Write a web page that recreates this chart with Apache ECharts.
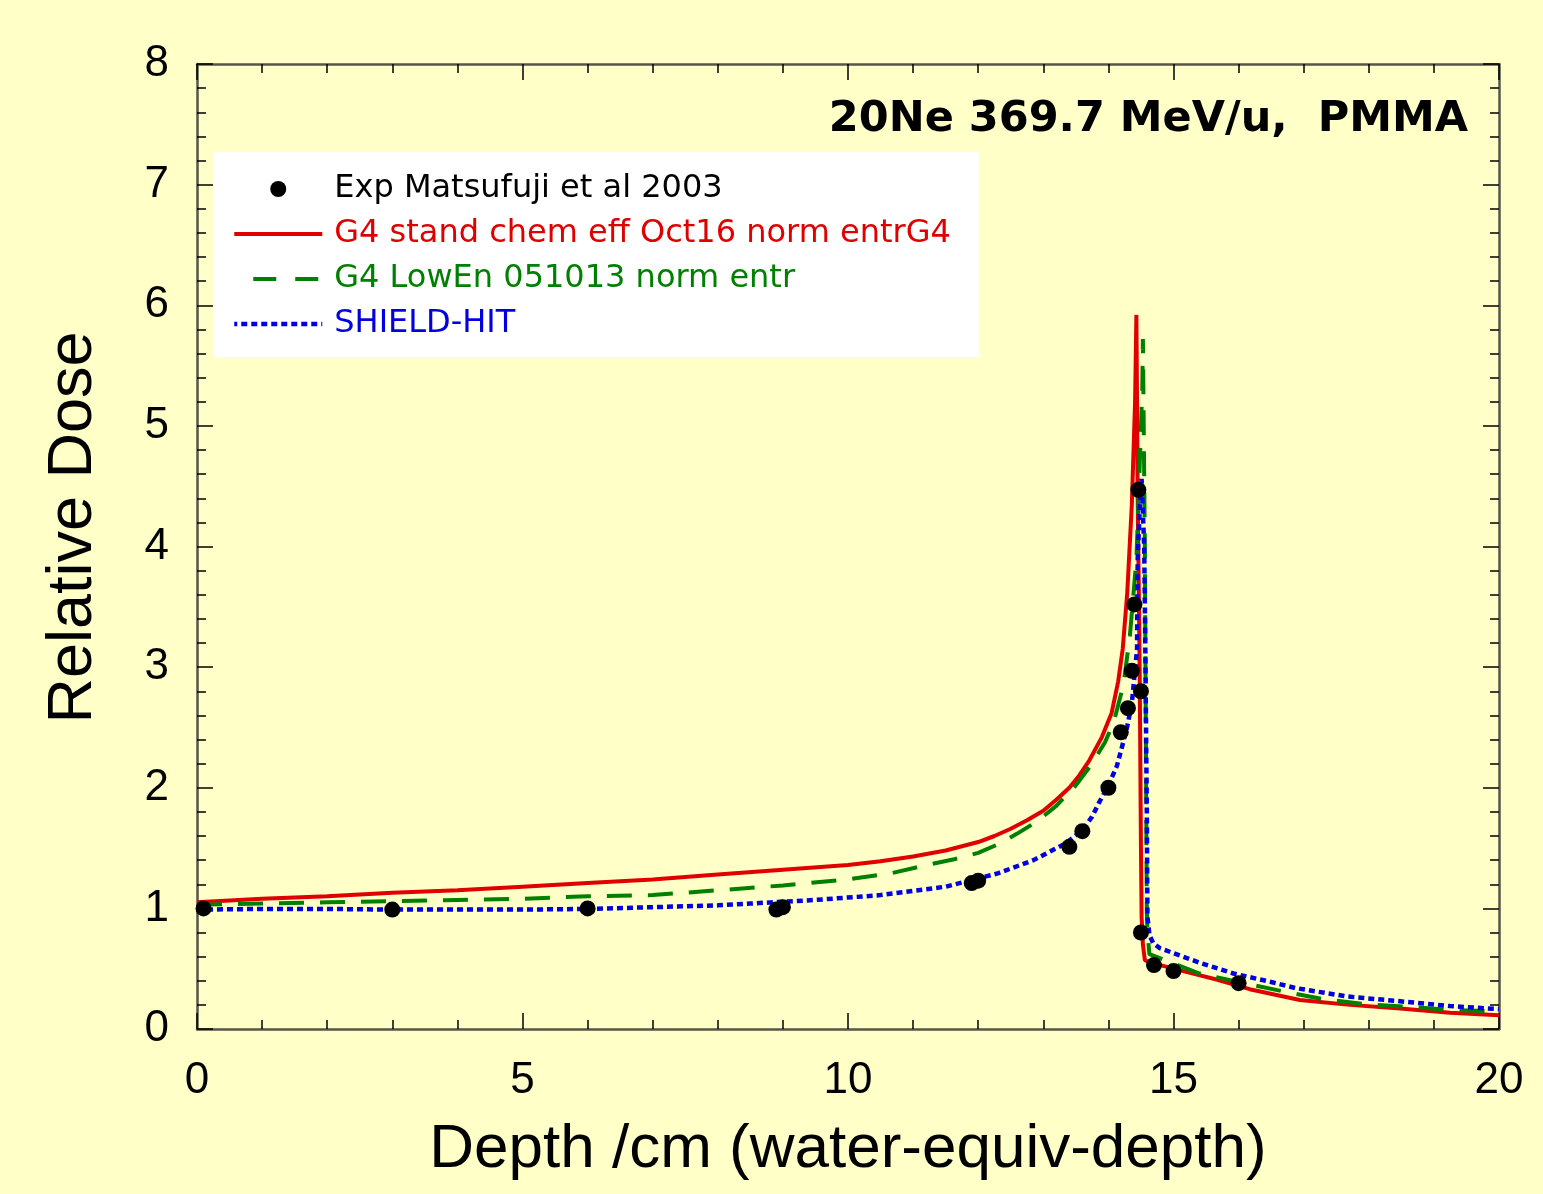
<!DOCTYPE html>
<html>
<head>
<meta charset="utf-8">
<script src="https://cdn.jsdelivr.net/npm/echarts@6/dist/echarts.min.js"></script>
<style>
  html, body { margin: 0; padding: 0; background: #FFFFC8; }
  #chart { width: 1543px; height: 1194px; }
</style>
</head>
<body>
<div id="chart"></div>
<script>
// ---- Data ----
const titleText = '20Ne 369.7 MeV/u,  PMMA';
const xAxisName = 'Depth /cm (water-equiv-depth)';
const yAxisName = 'Relative Dose';

const seriesNames = [
  'Exp Matsufuji et al 2003',
  'G4 stand chem eff Oct16 norm entrG4',
  'G4 LowEn 051013 norm entr',
  'SHIELD-HIT'
];

// Experimental points
const expX = [0.1, 3.0, 6.0, 8.9, 9.0, 11.9, 12.0, 13.4, 13.6, 14.0, 14.19, 14.3, 14.36, 14.4, 14.46, 14.5, 14.5, 14.7, 15.0, 16.0];
const expY = [1.0, 0.99, 1.0, 0.99, 1.01, 1.21, 1.23, 1.51, 1.64, 2.0, 2.46, 2.66, 2.97, 3.52, 4.47, 2.80, 0.80, 0.53, 0.48, 0.38];

// G4 standard (red, solid)
const redX = [0, 1, 2, 3, 4, 5, 6, 7, 8, 9, 10, 10.5, 11, 11.5, 12, 12.25, 12.5, 12.75, 13, 13.2, 13.4, 13.55, 13.7, 13.9, 14.05, 14.15, 14.22, 14.29, 14.36, 14.41, 14.43, 14.44, 14.45, 14.47, 14.48, 14.5, 14.51, 14.53, 14.56, 14.65, 15.15, 15.66, 16.17, 16.94, 17.71, 18.48, 19.25, 20];
const redY = [1.05, 1.08, 1.10, 1.13, 1.15, 1.18, 1.21, 1.24, 1.28, 1.32, 1.36, 1.39, 1.43, 1.48, 1.55, 1.60, 1.66, 1.73, 1.81, 1.90, 2.0, 2.1, 2.22, 2.42, 2.62, 2.88, 3.15, 3.62, 4.35, 5.2, 5.92, 5.2, 4.4, 3.5, 3.0, 1.5, 0.93, 0.7, 0.57, 0.55, 0.48, 0.41, 0.33, 0.24, 0.20, 0.17, 0.135, 0.115];

// G4 LowEn (green, dashed)
const greenX = [0, 1, 2, 3, 4, 5, 6, 7, 8, 9, 10, 10.65, 11.3, 11.65, 12, 12.3, 12.6, 12.9, 13.2, 13.5, 13.75, 13.95, 14.08, 14.23, 14.33, 14.43, 14.48, 14.52, 14.53, 14.56, 14.58, 14.59, 14.6, 14.63, 15.4, 16.17, 16.7, 17.33, 17.97, 18.6, 19.25, 20];
const greenY = [1.03, 1.04, 1.05, 1.06, 1.07, 1.08, 1.10, 1.11, 1.15, 1.19, 1.24, 1.29, 1.37, 1.41, 1.46, 1.53, 1.62, 1.72, 1.85, 2.02, 2.2, 2.38, 2.54, 2.85, 3.26, 3.89, 4.67, 5.3, 5.72, 4.0, 2.0, 1.0, 0.8, 0.62, 0.46, 0.37, 0.31, 0.245, 0.205, 0.185, 0.158, 0.145];

// SHIELD-HIT (blue, dotted)
const blueX = [0, 1, 2, 3, 4, 5, 6, 7, 8, 8.5, 9.5, 10.5, 11.5, 12.3, 12.85, 13.1, 13.35, 13.6, 13.75, 13.85, 14.0, 14.13, 14.2, 14.29, 14.36, 14.44, 14.45, 14.48, 14.51, 14.55, 14.57, 14.59, 14.6, 14.63, 14.69, 14.79, 15.4, 15.92, 16.5, 16.87, 17.66, 18.48, 19.25, 20];
const blueY = [0.99, 0.995, 0.995, 0.99, 0.99, 0.99, 0.995, 1.01, 1.025, 1.04, 1.07, 1.11, 1.18, 1.29, 1.40, 1.47, 1.54, 1.65, 1.76, 1.87, 2.02, 2.18, 2.32, 2.51, 2.7, 3.15, 3.9, 4.3, 4.56, 4.0, 3.0, 1.8, 0.93, 0.78, 0.71, 0.67, 0.55, 0.46, 0.39, 0.34, 0.27, 0.23, 0.19, 0.165];

const xMin = 0, xMax = 20, xStep = 5;
const yMin = 0, yMax = 8, yStep = 1;

// ---- Chart ----
const zip = (xs, ys) => xs.map((x, i) => [x, ys[i]]);
const FONT = '"Liberation Sans", Arial, Helvetica, sans-serif';
const WIDE_FONT = '"DejaVu Sans", "Liberation Sans", Arial, sans-serif';
const axisColor = '#56564a';
const colors = ['#000000', '#E00000', '#008000', '#0000E0'];
const hiddenSymbol = { color: 'rgba(0,0,0,0)', borderColor: 'rgba(0,0,0,0)', borderWidth: 0 };

const baseAxis = (extra) => Object.assign({
  type: 'value',
  axisLine: { show: true, onZero: false, lineStyle: { color: axisColor, width: 2.5 } },
  axisTick: { show: true, inside: true, length: 16, lineStyle: { color: '#000', width: 1.5 } },
  minorTick: { show: true, splitNumber: 5, length: 9, lineStyle: { color: '#000', width: 1.5 } },
  splitLine: { show: false },
  minorSplitLine: { show: false }
}, extra);

const chart = echarts.init(document.getElementById('chart'), null, { renderer: 'canvas' });
chart.setOption({
  backgroundColor: '#FFFFC8',
  animation: false,
  title: {
    text: titleText,
    right: 75,
    top: 98,
    padding: 0,
    textStyle: { fontFamily: WIDE_FONT, fontSize: 43, fontWeight: 'bold', color: '#000' }
  },
  legend: {
    orient: 'vertical',
    left: 213,
    top: 152,
    backgroundColor: '#FFFFFF',
    padding: [21, 28, 17, 19],
    itemGap: 13,
    itemWidth: 88,
    itemHeight: 16,
    textStyle: { fontFamily: WIDE_FONT, fontSize: 32, lineHeight: 30, padding: [0, 0, 0, 7] },
    data: [
      { name: seriesNames[0], textStyle: { color: colors[0] }, itemStyle: { color: colors[0], opacity: 1 } },
      { name: seriesNames[1], textStyle: { color: colors[1] }, itemStyle: hiddenSymbol,
        lineStyle: { width: 4, color: colors[1] } },
      { name: seriesNames[2], textStyle: { color: colors[2] }, itemStyle: hiddenSymbol,
        lineStyle: { width: 4, color: colors[2], type: [23, 19], dashOffset: 23 } },
      { name: seriesNames[3], textStyle: { color: colors[3] }, itemStyle: hiddenSymbol,
        lineStyle: { width: 4.5, color: colors[3], type: [6, 4] } }
    ]
  },
  grid: { left: 197, top: 64, right: 44, bottom: 165, containLabel: false },
  xAxis: [
    baseAxis({
      position: 'bottom', min: xMin, max: xMax, interval: xStep,
      axisLabel: { fontFamily: FONT, fontSize: 44, color: '#000', margin: 30 },
      name: xAxisName, nameLocation: 'middle', nameGap: 90,
      nameTextStyle: { fontFamily: FONT, fontSize: 62, color: '#000' }
    }),
    baseAxis({
      position: 'top', min: xMin, max: xMax, interval: xStep,
      axisLabel: { show: false }
    })
  ],
  yAxis: [
    baseAxis({
      position: 'left', min: yMin, max: yMax, interval: yStep,
      axisLabel: { fontFamily: FONT, fontSize: 44, color: '#000', margin: 28 },
      name: yAxisName, nameLocation: 'middle', nameGap: 92,
      nameTextStyle: { fontFamily: FONT, fontSize: 63, color: '#000', padding: [0, 0, 0, 38] }
    }),
    baseAxis({
      position: 'right', min: yMin, max: yMax, interval: yStep,
      axisLabel: { show: false }
    })
  ],
  series: [
    {
      name: seriesNames[1], type: 'line', data: zip(redX, redY),
      showSymbol: false, symbol: 'none',
      lineStyle: { color: colors[1], width: 4 }, itemStyle: { color: colors[1] }, z: 2
    },
    {
      name: seriesNames[2], type: 'line', data: zip(greenX, greenY),
      showSymbol: false, symbol: 'none',
      lineStyle: { color: colors[2], width: 4, type: [25, 16] }, itemStyle: { color: colors[2] }, z: 3
    },
    {
      name: seriesNames[3], type: 'line', data: zip(blueX, blueY),
      showSymbol: false, symbol: 'none',
      lineStyle: { color: colors[3], width: 4.5, type: [6, 4] }, itemStyle: { color: colors[3] }, z: 4
    },
    {
      name: seriesNames[0], type: 'scatter', data: zip(expX, expY),
      symbol: 'circle', symbolSize: 16,
      itemStyle: { color: colors[0], opacity: 1 }, z: 5
    }
  ]
});
</script>
</body>
</html>
